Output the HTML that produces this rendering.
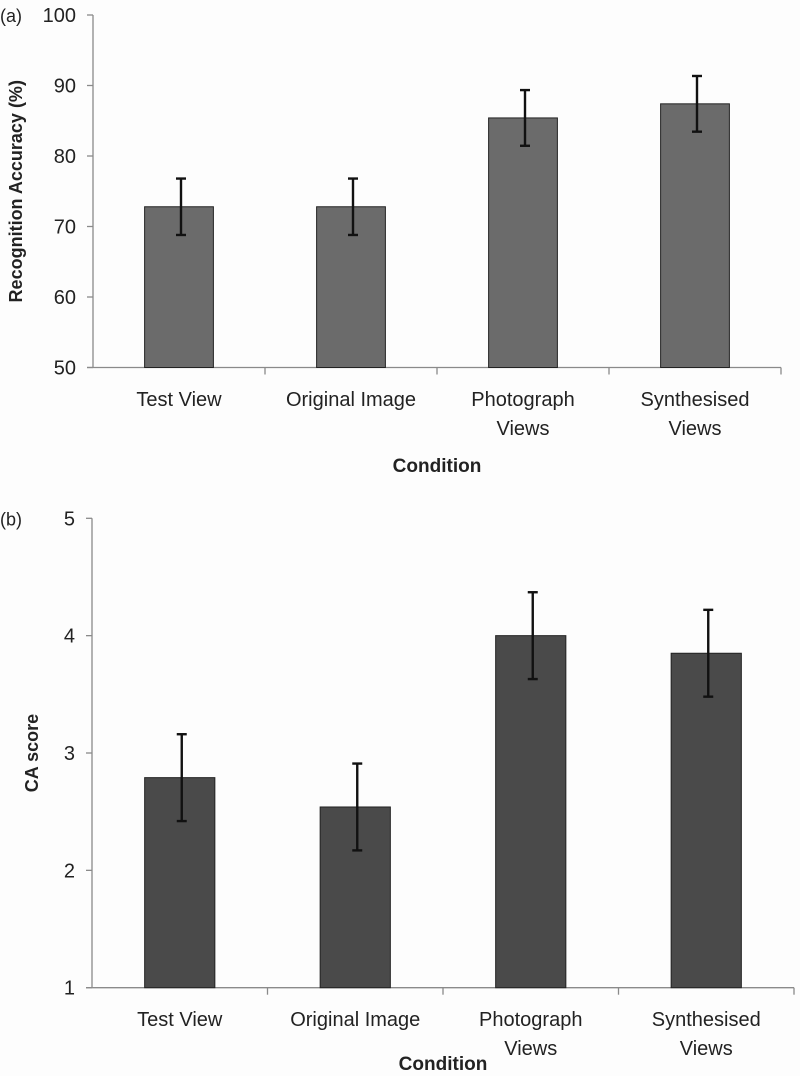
<!DOCTYPE html>
<html><head><meta charset="utf-8"><style>
html,body{margin:0;padding:0;background:#fdfdfd;}
svg{display:block;font-family:"Liberation Sans",sans-serif;}
</style></head><body>
<svg width="800" height="1076" viewBox="0 0 800 1076">
<g id="chartA"></g>
<g id="chartB"></g>
</svg>
<script>
const categories = [["Test View"],["Original Image"],["Photograph","Views"],["Synthesised","Views"]];
const accValues = [72.8, 72.8, 85.4, 87.4];
const accErrors = [4.0, 4.0, 3.95, 3.95];
const accTicks = [50, 60, 70, 80, 90, 100];
const caValues = [2.79, 2.54, 4.0, 3.85];
const caErrors = [0.37, 0.37, 0.37, 0.37];
const caTicks = [1, 2, 3, 4, 5];

const NS = "http://www.w3.org/2000/svg";
function mk(parent, tag, attrs, text) {
  const e = document.createElementNS(NS, tag);
  for (const k in attrs) e.setAttribute(k, attrs[k]);
  if (text !== undefined) e.textContent = text;
  parent.appendChild(e);
  return e;
}

function drawChart(g, cfg) {
  const yScale = v => cfg.y0 - (v - cfg.vmin) / (cfg.vmax - cfg.vmin) * (cfg.y0 - cfg.y1);
  const band = (cfg.xEnd - cfg.xAxis) / categories.length;
  const lab = mk(g, "text", {x: 0, y: cfg.y1 + 7, "font-size": 18, fill: "#222"}, cfg.panel);
  
  
  const ya = mk(g, "line", {x1: cfg.xAxis, x2: cfg.xAxis, y1: cfg.y1, y2: cfg.y0, stroke: "#8a8a8a", "stroke-width": 1.3});
  
  
  cfg.ticks.forEach(t => {
    const y = yScale(t);
    const tm = mk(g, "line", {x1: cfg.xAxis - 6, x2: cfg.xAxis, y1: y, y2: y, stroke: "#8a8a8a", "stroke-width": 1.3});
    
    
    const tl = mk(g, "text", {x: cfg.xAxis - 17, y: y + 7, "text-anchor": "end", "font-size": 20, fill: "#222"}, String(t));
    
    
  });
  const xa = mk(g, "line", {x1: cfg.xAxis - 6, x2: cfg.xEnd, y1: cfg.y0, y2: cfg.y0, stroke: "#8a8a8a", "stroke-width": 1.3});
  
  
  categories.forEach((c, i) => {
    const xt = cfg.xAxis + band * (i + 1);
    const tm = mk(g, "line", {x1: xt, x2: xt, y1: cfg.y0, y2: cfg.y0 + 7, stroke: "#8a8a8a", "stroke-width": 1.3});
    
    
    const cx = cfg.xAxis + band * (i + 0.5);
    const bw = band * 0.4;
    const v = cfg.values[i], e = cfg.errors[i];
    const yt = yScale(v);
    const bar = mk(g, "rect", {x: cx - bw / 2, y: yt, width: bw, height: cfg.y0 - yt, fill: cfg.color, stroke: "#222", "stroke-width": 1});
    
    
    const ex = cx + 2;
    const eh = yScale(v + e), el = yScale(v - e);
    const eg = mk(g, "g", {stroke: "#111", "stroke-width": 2.4});
    
    
    mk(eg, "line", {x1: ex, x2: ex, y1: eh, y2: el});
    mk(eg, "line", {x1: ex - 5, x2: ex + 5, y1: eh, y2: eh});
    mk(eg, "line", {x1: ex - 5, x2: ex + 5, y1: el, y2: el});
    c.forEach((line, j) => {
      const t = mk(g, "text", {x: cx, y: cfg.catY + j * cfg.lineH, "text-anchor": "middle", "font-size": 20, fill: "#222"}, line);
      
      
    });
  });
  const xt = mk(g, "text", {x: (cfg.xAxis + cfg.xEnd) / 2, y: cfg.xTitleY, "text-anchor": "middle", "font-size": 19, "font-weight": "bold", fill: "#222"}, "Condition");
  
  
  const my = (cfg.y0 + cfg.y1) / 2;
  const yt = mk(g, "text", {x: cfg.yTitleX, y: my, "text-anchor": "middle", "font-size": 18, "font-weight": "bold", fill: "#222", transform: "rotate(-90 " + cfg.yTitleX + " " + my + ")"}, cfg.yTitle);
  
  
}

drawChart(document.getElementById("chartA"), {
  panel: "(a)", values: accValues, errors: accErrors, ticks: accTicks,
  vmin: 50, vmax: 100, y0: 367.5, y1: 15, xAxis: 93, xEnd: 781,
  color: "#6b6b6b", catY: 406, lineH: 29, xTitleY: 472, yTitleX: 22,
  yTitle: "Recognition Accuracy (%)"
});
drawChart(document.getElementById("chartB"), {
  panel: "(b)", values: caValues, errors: caErrors, ticks: caTicks,
  vmin: 1, vmax: 5, y0: 987.7, y1: 518.3, xAxis: 92, xEnd: 794,
  color: "#4a4a4a", catY: 1026, lineH: 29, xTitleY: 1070, yTitleX: 38,
  yTitle: "CA score"
});
</script>
</body></html>
